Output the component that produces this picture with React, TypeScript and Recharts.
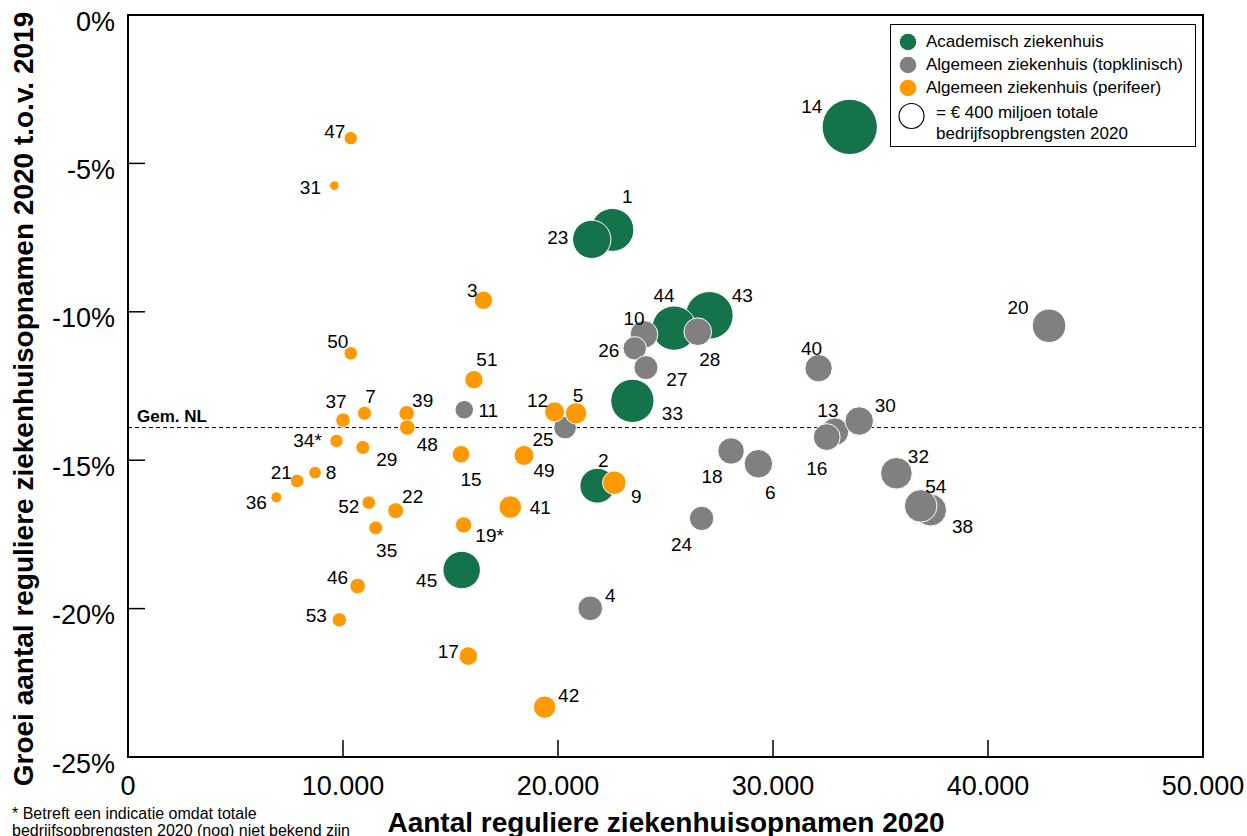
import React from "react";
import {
  ScatterChart,
  Scatter,
  XAxis,
  YAxis,
  ZAxis,
  ReferenceLine,
  ReferenceArea,
  Legend,
} from "recharts";

// Academisch ziekenhuis
const academischIds = ["14", "1", "23", "33", "2", "45", "43", "44"];
const academischOpnamen = [33570, 22530, 21570, 23460, 21830, 15520, 27040, 25400];
const academischGroei = [-3.77, -7.24, -7.56, -13.0, -15.86, -18.7, -10.12, -10.55];
const academischOpbrengsten = [1960, 1180, 940, 1200, 780, 900, 1450, 1260];

// Algemeen ziekenhuis (topklinisch)
const topklinischIds = ["20", "40", "10", "26", "27", "28", "11", "25", "18", "6", "24", "4", "13", "16", "30", "32", "38", "54"];
const topklinischOpnamen = [42840, 32120, 24000, 23570, 24090, 26500, 15640, 20330, 28050, 29320, 26680, 21500, 32880, 32500, 34010, 35740, 37330, 36870];
const topklinischGroei = [-10.47, -11.9, -10.76, -11.23, -11.88, -10.67, -13.3, -13.9, -14.69, -15.12, -16.96, -19.99, -14.04, -14.22, -13.68, -15.44, -16.68, -16.54];
const topklinischOpbrengsten = [720, 480, 490, 350, 370, 490, 220, 330, 450, 520, 380, 390, 490, 460, 520, 640, 655, 680];

// Algemeen ziekenhuis (perifeer)
const perifeerIds = ["47", "31", "50", "37", "7", "39", "48", "34*", "29", "21", "8", "36", "52", "22", "35", "46", "53", "3", "51", "12", "5", "15", "49", "9", "41", "19*", "17", "42"];
const perifeerOpnamen = [10360, 9600, 10360, 10000, 11000, 12960, 12990, 9700, 10920, 7870, 8700, 6900, 11200, 12450, 11520, 10680, 9830, 16530, 16090, 19840, 20840, 15490, 18420, 22620, 17780, 15610, 15830, 19380];
const perifeerGroei = [-4.15, -5.75, -11.4, -13.65, -13.42, -13.42, -13.9, -14.35, -14.57, -15.7, -15.42, -16.25, -16.43, -16.7, -17.28, -19.24, -20.38, -9.61, -12.29, -13.37, -13.42, -14.8, -14.84, -15.76, -16.58, -17.18, -21.6, -23.32];
const perifeerOpbrengsten = [115, 57, 118, 137, 125, 156, 156, 115, 125, 118, 102, 77, 118, 164, 125, 156, 133, 217, 217, 256, 293, 198, 256, 356, 327, 172, 221, 321];

const gemiddeldeNL = -13.9;
const legendaOpbrengst = 400;

const xTicks = [0, 10000, 20000, 30000, 40000, 50000];
const yTicks = [0, -5, -10, -15, -20, -25];

const GREEN = "#15734B";
const GRAY = "#808080";
const ORANGE = "#FF9900";
const FONT = "'Liberation Sans', Arial, sans-serif";

// bubble area per million euro (legend circle of 400 has r = 12.5px)
const AREA_PER_UNIT = (Math.PI * 12.5 * 12.5) / 400;
const Z_MAX = 2000;

// label placement relative to the bubble centre
const labelOffset: Record<string, [number, number]> = {
  "47": [-16, -7], "31": [-24, 2], "50": [-13, -12], "37": [-7, -19], "7": [6, -17],
  "39": [16, -13], "48": [20, 17], "34*": [-29, 0], "29": [24, 12], "21": [-16, -8],
  "8": [16, 0], "36": [-20, 5], "52": [-20, 4], "22": [17, -14], "35": [11, 23],
  "46": [-20, -9], "53": [-23, -4], "1": [15, -33], "23": [-34, -2], "3": [-11, -10],
  "44": [-10, -33], "43": [33, -20], "28": [12, 28], "10": [-10, -16], "26": [-26, 2],
  "27": [31, 12], "51": [13, -20], "33": [40, 13], "11": [24, 1], "12": [-17, -11],
  "5": [2, -18], "25": [-22, 12], "15": [10, 25], "49": [20, 15], "2": [6, -25],
  "9": [22, 14], "41": [30, 0], "19*": [26, 11], "45": [-35, 10], "18": [-19, 26],
  "6": [12, 29], "24": [-20, 26], "40": [-7, -20], "4": [20, -13], "17": [-20, -5],
  "42": [24, -12], "14": [-38, -20], "20": [-31, -18], "30": [26, -16], "13": [-7, -21],
  "16": [-10, 31], "32": [22, -17], "54": [15, -19], "38": [32, 16],
};

function build(ids: string[], xs: number[], ys: number[], zs: number[]) {
  return ids.map((id, i) => ({ id, x: xs[i], y: ys[i], z: zs[i] }));
}

const academischData = build(academischIds, academischOpnamen, academischGroei, academischOpbrengsten);
const topklinischData = build(topklinischIds, topklinischOpnamen, topklinischGroei, topklinischOpbrengsten);
const perifeerData = build(perifeerIds, perifeerOpnamen, perifeerGroei, perifeerOpbrengsten);

const legendItems = [
  { label: "Academisch ziekenhuis", color: GREEN },
  { label: "Algemeen ziekenhuis (topklinisch)", color: GRAY },
  { label: "Algemeen ziekenhuis (perifeer)", color: ORANGE },
];

const formatThousands = (v: number) =>
  String(v).replace(/\B(?=(\d{3})+(?!\d))/g, ".");

const bubble = (color: string) => (props: any) => {
  const { cx, cy, width, payload } = props;
  const r = width / 2;
  const off = labelOffset[payload.id] ?? [0, -r - 10];
  return (
    <g>
      <circle cx={cx} cy={cy} r={r} fill={color} stroke="#fff" strokeWidth={1} />
      <text
        x={cx + off[0]}
        y={cy + off[1]}
        textAnchor="middle"
        dominantBaseline="central"
        fontSize={19}
        fontFamily={FONT}
        fill="#000"
      >
        {payload.id}
      </text>
    </g>
  );
};

const YTick = (props: any) => {
  const { x, y, payload } = props;
  return (
    <text x={x} y={y + 6} dy="0.355em" textAnchor="end" fontSize={27} fontFamily={FONT} fill="#000">
      {payload.value}%
    </text>
  );
};

const XTick = (props: any) => {
  const { x, y, payload } = props;
  return (
    <text x={x} y={y} dy="0.71em" textAnchor="middle" fontSize={27} fontFamily={FONT} fill="#000">
      {formatThousands(payload.value)}
    </text>
  );
};

const YTitle = () => (
  <text
    x={23}
    y={399}
    transform="rotate(-90 23 399)"
    textAnchor="middle"
    dominantBaseline="central"
    fontSize={28}
    fontWeight="bold"
    fontFamily={FONT}
    fill="#000"
  >
    Groei aantal reguliere ziekenhuisopnamen 2020 t.o.v. 2019
  </text>
);

const XTitle = () => (
  <g>
    <text
      x={666}
      y={822}
      textAnchor="middle"
      dominantBaseline="central"
      fontSize={28}
      fontWeight="bold"
      fontFamily={FONT}
      fill="#000"
    >
      Aantal reguliere ziekenhuisopnamen 2020
    </text>
    <text x={12} y={813} dominantBaseline="central" fontSize={16} fontFamily={FONT} fill="#000">
      * Betreft een indicatie omdat totale
    </text>
    <text x={12} y={830} dominantBaseline="central" fontSize={16} fontFamily={FONT} fill="#000">
      bedrijfsopbrengsten 2020 (nog) niet bekend zijn
    </text>
  </g>
);

const GemLabel = (props: any) => {
  const vb = props.viewBox || { x: 128, y: 427 };
  return (
    <text x={vb.x + 9} y={vb.y - 6} fontSize={17} fontWeight="bold" fontFamily={FONT} fill="#000">
      Gem. NL
    </text>
  );
};

const LegendBox = () => {
  const r400 = Math.sqrt((legendaOpbrengst * AREA_PER_UNIT) / Math.PI);
  return (
    <svg width={306} height={123} style={{ display: "block" }}>
      <rect x={0.5} y={0.5} width={305} height={122} fill="#fff" stroke="#000" strokeWidth={1} />
      {legendItems.map((it, i) => (
        <g key={it.label}>
          <circle cx={18} cy={18 + i * 23} r={8.3} fill={it.color} />
          <text
            x={36}
            y={17.5 + i * 23}
            dominantBaseline="central"
            fontSize={17}
            fontFamily={FONT}
            fill="#000"
          >
            {it.label}
          </text>
        </g>
      ))}
      <circle cx={21.5} cy={92} r={r400} fill="#fff" stroke="#000" strokeWidth={1.2} />
      <text x={46} y={88} dominantBaseline="central" fontSize={17} fontFamily={FONT} fill="#000">
        = € 400 miljoen totale
      </text>
      <text x={46} y={109} dominantBaseline="central" fontSize={17} fontFamily={FONT} fill="#000">
        bedrijfsopbrengsten 2020
      </text>
    </svg>
  );
};

export default function App() {
  return (
    <div style={{ position: "absolute", left: 0, top: 0, background: "#fff" }}>
      <ScatterChart
        width={1247}
        height={836}
        margin={{ top: 15, right: 44, bottom: 19, left: 28 }}
      >
        <XAxis
          type="number"
          dataKey="x"
          domain={[0, 50000]}
          ticks={xTicks}
          interval={0}
          axisLine={false}
          tickLine={{ stroke: "#000", strokeWidth: 1.5 }}
          tickSize={-17}
          tickMargin={36}
          tick={<XTick />}
          height={60}
          label={<XTitle />}
        />
        <YAxis
          type="number"
          dataKey="y"
          domain={[-25, 0]}
          ticks={yTicks}
          interval={0}
          axisLine={false}
          tickLine={{ stroke: "#000", strokeWidth: 1.5 }}
          tickSize={-17}
          tickMargin={30}
          tick={<YTick />}
          width={100}
          label={<YTitle />}
        />
        <ZAxis type="number" dataKey="z" domain={[0, Z_MAX]} range={[0, Z_MAX * AREA_PER_UNIT]} />
        <ReferenceArea
          x1={0}
          x2={50000}
          y1={-25}
          y2={0}
          fill="none"
          fillOpacity={0}
          stroke="#000"
          strokeWidth={2}
          strokeOpacity={1}
        />
        <ReferenceLine
          y={gemiddeldeNL}
          stroke="#000"
          strokeWidth={1}
          strokeDasharray="4 3"
          label={<GemLabel />}
        />
        <Legend
          layout="horizontal"
          verticalAlign="middle"
          align="center"
          content={<LegendBox />}
          wrapperStyle={{ left: 890, top: 24, width: 306, height: 123 }}
        />
        <Scatter
          name="Academisch ziekenhuis"
          data={academischData}
          fill={GREEN}
          shape={bubble(GREEN)}
          isAnimationActive={false}
        />
        <Scatter
          name="Algemeen ziekenhuis (topklinisch)"
          data={topklinischData}
          fill={GRAY}
          shape={bubble(GRAY)}
          isAnimationActive={false}
        />
        <Scatter
          name="Algemeen ziekenhuis (perifeer)"
          data={perifeerData}
          fill={ORANGE}
          shape={bubble(ORANGE)}
          isAnimationActive={false}
        />
      </ScatterChart>
    </div>
  );
}
